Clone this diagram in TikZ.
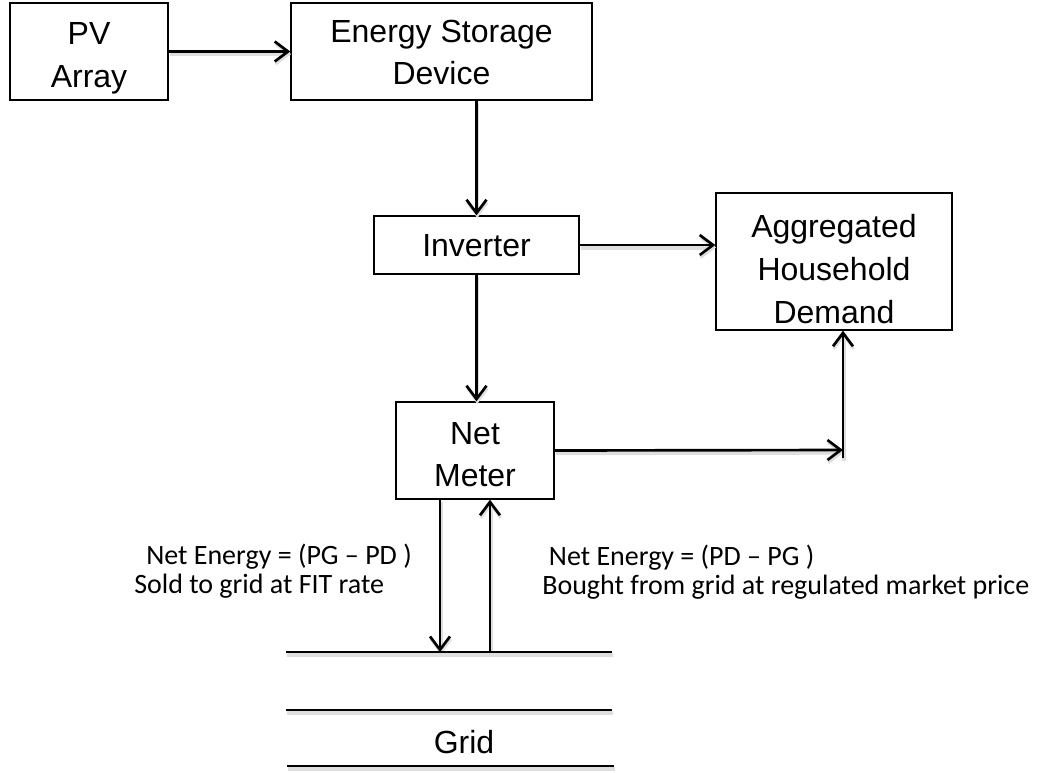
\documentclass[tikz,border=0pt]{standalone}
\usepackage{fontspec}
\setmainfont{Liberation Sans}
\newfontfamily\calib{Carlito}
\usetikzlibrary{arrows.meta}
\begin{document}
\begin{tikzpicture}[x=0.75pt,y=-0.75pt,
  box/.style={draw=black, line width=1.1pt, fill=white, inner sep=0pt},
  boxtext/.style={align=center, inner sep=0pt, font=\fontsize{24}{32}\selectfont},
  shad/.style={preaction={draw=black!13, line width=3pt, transform canvas={shift={(0.6pt,-2pt)}}}},
  arr/.style={line width=2pt, shad, -{Straight Barb[length=10pt,width=15pt,line width=2pt]}},
  gline/.style={line width=2pt, shad},
  lbl/.style={font=\calib\fontsize{21}{21.5}\selectfont, align=left, inner sep=0pt, anchor=west}
]
\useasboundingbox (0,0) rectangle (1047,772);

\node[box, minimum width=158*0.75pt, minimum height=97*0.75pt,
  label={[boxtext, yshift=-4.9pt]center:{PV\\Array}}] (pv) at (89,51.5) {};
\node[box, minimum width=301*0.75pt, minimum height=97*0.75pt,
  label={[boxtext, yshift=-0.8pt]center:{Energy Storage\\Device}}] (esd) at (441.5,51.5) {};
\node[box, minimum width=205*0.75pt, minimum height=58*0.75pt,
  label={[boxtext, yshift=-0.8pt]center:{Inverter}}] (inv) at (476.5,245) {};
\node[box, minimum width=236*0.75pt, minimum height=137*0.75pt,
  label={[boxtext, yshift=-5.6pt]center:{Aggregated\\Household\\Demand}}] (agg) at (834,261.5) {};
\node[box, minimum width=158*0.75pt, minimum height=97*0.75pt,
  label={[boxtext, yshift=-3pt]center:{Net\\Meter}}] (nm) at (475,450.5) {};

\coordinate (jn) at (843,450);
\coordinate (jb) at (843,458);
\coordinate (g1a) at (286,652); \coordinate (g1b) at (612,652);
\coordinate (g2a) at (286,710); \coordinate (g2b) at (612,710);
\coordinate (g3a) at (287,766); \coordinate (g3b) at (614,766);
\coordinate (dn) at (440,652);
\coordinate (up) at (490,652);

\draw[arr] (pv.east) -- (esd.west);
\draw[arr] (esd.south -| inv.north) -- (inv.north);
\draw[arr] (inv.east) -- (inv.east -| agg.west);
\draw[arr] (inv.south) -- (inv.south |- nm.north);
\draw[arr] (nm.east) -- (jn);
\draw[arr] (jb) -- (jb |- agg.south);
\draw[arr] (dn |- nm.south) -- (dn);
\draw[arr] (up) -- (up |- nm.south);

\draw[gline] (g1a) -- (g1b);
\draw[gline] (g2a) -- (g2b);
\draw[gline] (g3a) -- (g3b);

\node[boxtext] (grid) at (464,742) {Grid};

\node[lbl] (lsold) at (134,571) {\hspace*{9pt}Net Energy = (PG – PD )\\Sold to grid at FIT rate};
\node[lbl] (lbuy) at (542,572) {\hspace*{5pt}Net Energy = (PD – PG )\\Bought from grid at regulated market price};
\end{tikzpicture}
\end{document}
